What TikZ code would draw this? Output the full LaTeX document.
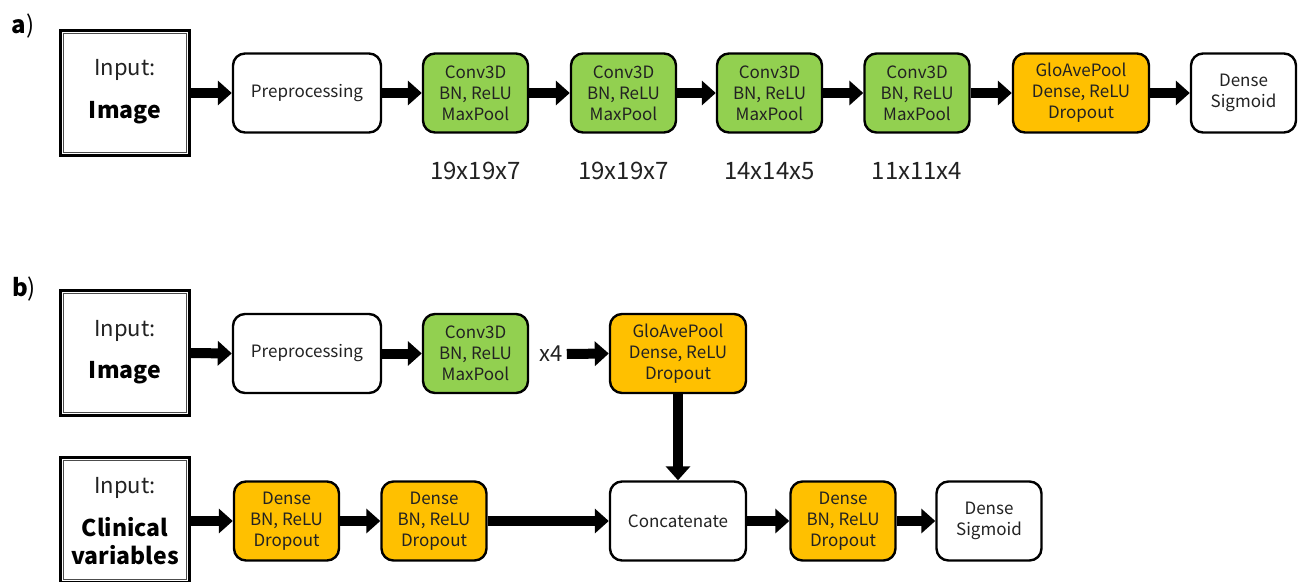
\documentclass[tikz,border=0pt]{standalone}
\usepackage{fontspec}
\setmainfont{Noto Sans CJK JP}
\usetikzlibrary{arrows.meta,calc}
\definecolor{gr}{HTML}{92D050}
\definecolor{og}{HTML}{FFC000}
\definecolor{tx}{HTML}{222222}
\begin{document}
\begin{tikzpicture}[x=1pt,y=-1pt,
  blk/.style={draw=black, line width=2.4pt, rounded corners=12pt, minimum width=105pt, minimum height=79pt,
    align=center, inner sep=0pt, text=tx, font=\fontsize{17}{21}\selectfont},
  grbox/.style={blk, fill=gr},
  ogbox/.style={blk, fill=og},
  wtbox/.style={blk, fill=white},
  inbox/.style={draw=black, line width=2.6pt, minimum width=129pt, minimum height=125pt, inner sep=0pt},
  intxt/.style={inner sep=0pt, text=tx, font=\fontsize{22}{26}\selectfont},
  inbold/.style={inner sep=0pt, text=black, font=\fontsize{23}{27}\selectfont\bfseries},
  dimtxt/.style={inner sep=0pt, text=tx, font=\fontsize{24}{28}\selectfont},
  panel/.style={inner sep=0pt, font=\fontsize{24}{28}\selectfont},
  arr/.style={line width=10pt, -{Triangle[length=14pt,width=24pt]}}
]
\clip (0,0) rectangle (1306,581);
\fill[white] (0,0) rectangle (1306,581);

% ---------- panel a ----------
\node[panel] (la) at (23,26) {\textbf{a})};
\node[inbox] (ia) at (125,93) {};
\draw[line width=0.8pt, black!70] ($(ia.north west)+(4.5,4.5)$) rectangle ($(ia.south east)+(-4.5,-4.5)$);
\node[intxt] (ia1) at (125,70) {Input:};
\node[inbold] (ia2) at (125,113) {Image};
\node[wtbox, minimum width=148pt] (pa) at (307,93) {Preprocessing};
\node[grbox] (c1) at (475.5,93) {Conv3D\\BN, ReLU\\MaxPool};
\node[grbox] (c2) at (623.5,93) {Conv3D\\BN, ReLU\\MaxPool};
\node[grbox] (c3) at (769.5,93) {Conv3D\\BN, ReLU\\MaxPool};
\node[grbox] (c4) at (917,93) {Conv3D\\BN, ReLU\\MaxPool};
\node[ogbox, minimum width=136pt] (ga) at (1081,93) {GloAvePool\\Dense, ReLU\\Dropout};
\node[wtbox] (da) at (1243.5,93) {Dense\\Sigmoid};
\node[dimtxt] (s1) at (475.5,171) {19x19x7};
\node[dimtxt] (s2) at (623.5,171) {19x19x7};
\node[dimtxt] (s3) at (769.5,171) {14x14x5};
\node[dimtxt] (s4) at (917,171) {11x11x4};
\draw[arr] (ia.east) -- (pa.west);
\draw[arr] (pa.east) -- (c1.west);
\draw[arr] (c1.east) -- (c2.west);
\draw[arr] (c2.east) -- (c3.west);
\draw[arr] (c3.east) -- (c4.west);
\draw[arr] (c4.east) -- (ga.west);
\draw[arr] (ga.east) -- (da.west);

% ---------- panel b ----------
\node[panel] (lb) at (24,289) {\textbf{b})};
\node[inbox] (ib) at (125,353) {};
\draw[line width=0.8pt, black!70] ($(ib.north west)+(4.5,4.5)$) rectangle ($(ib.south east)+(-4.5,-4.5)$);
\node[intxt] (ib1) at (125,331) {Input:};
\node[inbold] (ib2) at (125,373) {Image};
\node[wtbox, minimum width=148pt] (pb) at (307,353.5) {Preprocessing};
\node[grbox] (cb) at (475.5,353.5) {Conv3D\\BN, ReLU\\MaxPool};
\node[dimtxt, font=\fontsize{22}{26}\selectfont] (x4) at (551,354) {x4};
\node[ogbox, minimum width=136pt] (gb) at (678,353.5) {GloAvePool\\Dense, ReLU\\Dropout};
\node[wtbox, minimum width=136pt] (cat) at (678,521) {Concatenate};
\draw[arr] (ib.east) -- (pb.west);
\draw[arr] (pb.east) -- (cb.west);
\draw[arr] ([xshift=4pt]x4.east) -- (gb.west);
\draw[arr] (gb.south) -- (cat.north);

\node[inbox] (ic) at (125,520) {};
\draw[line width=0.8pt, black!70] ($(ic.north west)+(4.5,4.5)$) rectangle ($(ic.south east)+(-4.5,-4.5)$);
\node[intxt] (ic1) at (125,488) {Input:};
\node[inbold] (ic2) at (125,527) {Clinical};
\node[inbold] (ic3) at (125,555) {variables};
\node[ogbox] (d1) at (286.5,521) {Dense\\BN, ReLU\\Dropout};
\node[ogbox] (d2) at (434,521) {Dense\\BN, ReLU\\Dropout};
\node[ogbox] (d3) at (843,521) {Dense\\BN, ReLU\\Dropout};
\node[wtbox] (ds) at (989,521) {Dense\\Sigmoid};
\draw[arr] (ic.east |- d1.west) -- (d1.west);
\draw[arr] (d1.east) -- (d2.west);
\draw[arr] (d2.east) -- (cat.west);
\draw[arr] (cat.east) -- (d3.west);
\draw[arr] (d3.east) -- (ds.west);
\end{tikzpicture}
\end{document}
